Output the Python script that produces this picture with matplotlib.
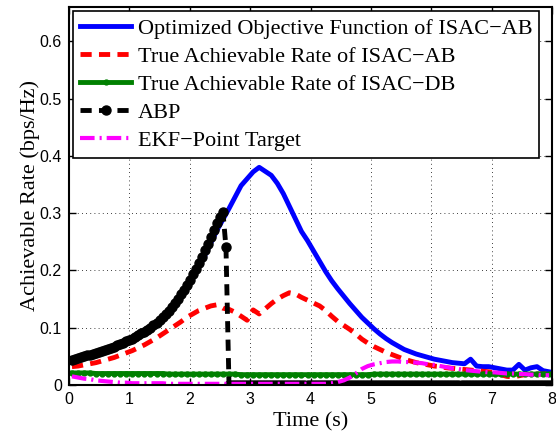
import matplotlib.pyplot as plt
import numpy as np

# sample instants (s)
time = np.round(np.arange(0.05, 8.0, 0.1), 2)

obj_isac_ab = [
    0.043, 0.046, 0.049, 0.052, 0.055, 0.058, 0.062, 0.066, 0.070, 0.075,
    0.080, 0.085, 0.091, 0.098, 0.106, 0.115, 0.126, 0.138, 0.152, 0.168,
    0.186, 0.205, 0.226, 0.248, 0.270, 0.289, 0.308, 0.328, 0.348, 0.360,
    0.372, 0.380, 0.373, 0.366, 0.352, 0.334, 0.312, 0.290, 0.268, 0.252,
    0.234, 0.216, 0.198, 0.182, 0.168, 0.155, 0.142, 0.130, 0.118, 0.108,
    0.098, 0.089, 0.081, 0.074, 0.068, 0.062, 0.058, 0.054, 0.051, 0.048,
    0.045, 0.043, 0.041, 0.039, 0.038, 0.037, 0.045, 0.033, 0.032, 0.032,
    0.030, 0.028, 0.026, 0.026, 0.036, 0.026, 0.030, 0.032, 0.025, 0.023,
]

true_isac_ab = [
    0.032, 0.033, 0.035, 0.037, 0.039, 0.042, 0.045, 0.048, 0.052, 0.056,
    0.060, 0.065, 0.070, 0.076, 0.082, 0.089, 0.096, 0.103, 0.110, 0.118,
    0.124, 0.130, 0.134, 0.138, 0.140, 0.134, 0.132, 0.127, 0.120, 0.113,
    0.131, 0.124, 0.133, 0.142, 0.150, 0.156, 0.161, 0.159, 0.153, 0.148,
    0.143, 0.138, 0.130, 0.120, 0.111, 0.104, 0.097, 0.089, 0.080, 0.073,
    0.067, 0.062, 0.057, 0.053, 0.049, 0.045, 0.042, 0.039, 0.037, 0.035,
    0.033, 0.032, 0.030, 0.029, 0.028, 0.027, 0.026, 0.025, 0.024, 0.023,
    0.021, 0.018, 0.015, 0.014, 0.016, 0.018, 0.018, 0.019, 0.019, 0.020,
]

true_isac_db = [
    0.021, 0.021, 0.021, 0.021, 0.020, 0.020, 0.020, 0.020, 0.020, 0.020,
    0.020, 0.020, 0.020, 0.020, 0.020, 0.020, 0.019, 0.019, 0.019, 0.019,
    0.019, 0.019, 0.019, 0.019, 0.019, 0.019, 0.019, 0.019, 0.018, 0.018,
    0.018, 0.018, 0.018, 0.018, 0.018, 0.018, 0.018, 0.018, 0.018, 0.018,
    0.018, 0.018, 0.018, 0.018, 0.018, 0.018, 0.018, 0.018, 0.018, 0.018,
    0.019, 0.019, 0.019, 0.019, 0.019, 0.019, 0.019, 0.019, 0.019, 0.019,
    0.019, 0.019, 0.019, 0.019, 0.019, 0.019, 0.019, 0.019, 0.019, 0.019,
    0.019, 0.019, 0.019, 0.019, 0.019, 0.019, 0.019, 0.019, 0.019, 0.019,
]

# ABP is sampled every 0.05 s; the beam is lost just after 2.6 s
abp_time = np.round(np.arange(0.05, 8.001, 0.05), 2)
abp_rate = [
    0.044, 0.0455, 0.047, 0.0485, 0.050, 0.0515, 0.053, 0.0545, 0.056, 0.0575,
    0.059, 0.061, 0.063, 0.065, 0.067, 0.069, 0.071, 0.0735, 0.076, 0.0785,
    0.081, 0.084, 0.087, 0.090, 0.093, 0.0965, 0.100, 0.1045, 0.109, 0.114,
    0.119, 0.1245, 0.130, 0.1365, 0.143, 0.150, 0.158, 0.166, 0.175, 0.184,
    0.194, 0.203, 0.213, 0.224, 0.235, 0.246, 0.258, 0.270, 0.283, 0.293,
    0.302, 0.240,
] + [0.0] * 108

ekf_point = [
    0.015, 0.013, 0.011, 0.010, 0.008, 0.007, 0.006, 0.005, 0.004, 0.004,
    0.003, 0.003, 0.003, 0.003, 0.003, 0.003, 0.002, 0.002, 0.002, 0.002,
    0.002, 0.002, 0.002, 0.002, 0.002, 0.002, 0.002, 0.002, 0.002, 0.002,
    0.002, 0.002, 0.002, 0.002, 0.002, 0.002, 0.002, 0.002, 0.002, 0.002,
    0.002, 0.002, 0.002, 0.003, 0.005, 0.008, 0.013, 0.020, 0.028, 0.033,
    0.036, 0.038, 0.040, 0.041, 0.041, 0.040, 0.040, 0.039, 0.038, 0.036,
    0.035, 0.033, 0.031, 0.029, 0.028, 0.026, 0.025, 0.024, 0.023, 0.022,
    0.022, 0.021, 0.020, 0.020, 0.019, 0.019, 0.018, 0.018, 0.017, 0.017,
]

serif = ["Liberation Serif", "DejaVu Serif"]
sans = ["Liberation Sans", "DejaVu Sans"]

fig = plt.figure(figsize=(5.56, 4.34), dpi=100)
ax = fig.add_axes([0.124, 0.113, 0.869, 0.871])

ax.plot(time, obj_isac_ab, color="blue", lw=3.5,
        label="Optimized Objective Function of ISAC\u2212AB")
ax.plot(time, true_isac_ab, color="red", lw=3.5, ls=(0, (2.3, 1.5)),
        label="True Achievable Rate of ISAC\u2212AB")
ax.plot(time, true_isac_db, color="green", lw=3.5, marker="o", ms=3.5,
        label="True Achievable Rate of ISAC\u2212DB")
ax.plot(abp_time, abp_rate, color="black", lw=3.5, ls=(0, (2.3, 1.5)),
        marker="o", ms=6.5, label="ABP")
ax.plot(time, ekf_point, color="magenta", lw=3, ls=(0, (3.5, 1.2, 0.5, 1.2)),
        label="EKF\u2212Point Target")

ax.set_xlim(0, 8)
ax.set_ylim(0, 0.66)
ax.set_xticks(range(9))
ax.set_yticks([0, 0.1, 0.2, 0.3, 0.4, 0.5, 0.6])
ax.set_yticklabels(["0", "0.1", "0.2", "0.3", "0.4", "0.5", "0.6"])
ax.grid(True, color="black", ls=(0, (1, 4)), lw=0.6)
ax.tick_params(direction="in", length=5, width=1, top=True, right=True,
               labelsize=11.5, pad=5)
for lbl in ax.get_xticklabels() + ax.get_yticklabels():
    lbl.set_family(sans)
for sp in ax.spines.values():
    sp.set_linewidth(1.5)

ax.set_xlabel("Time (s)", family=serif, fontsize=16, labelpad=4)
ax.set_ylabel("Achievable Rate (bps/Hz)", family=serif, fontsize=16,
              labelpad=0)

leg = ax.legend(loc="upper left", prop={"family": serif, "size": 16},
                handlelength=2.3, handletextpad=0.3, labelspacing=0.34,
                borderaxespad=0.2, borderpad=0.3, fancybox=False,
                framealpha=1)
leg.get_frame().set_edgecolor("black")
leg.get_frame().set_linewidth(1.2)

fig.savefig("out.png", dpi=100)
